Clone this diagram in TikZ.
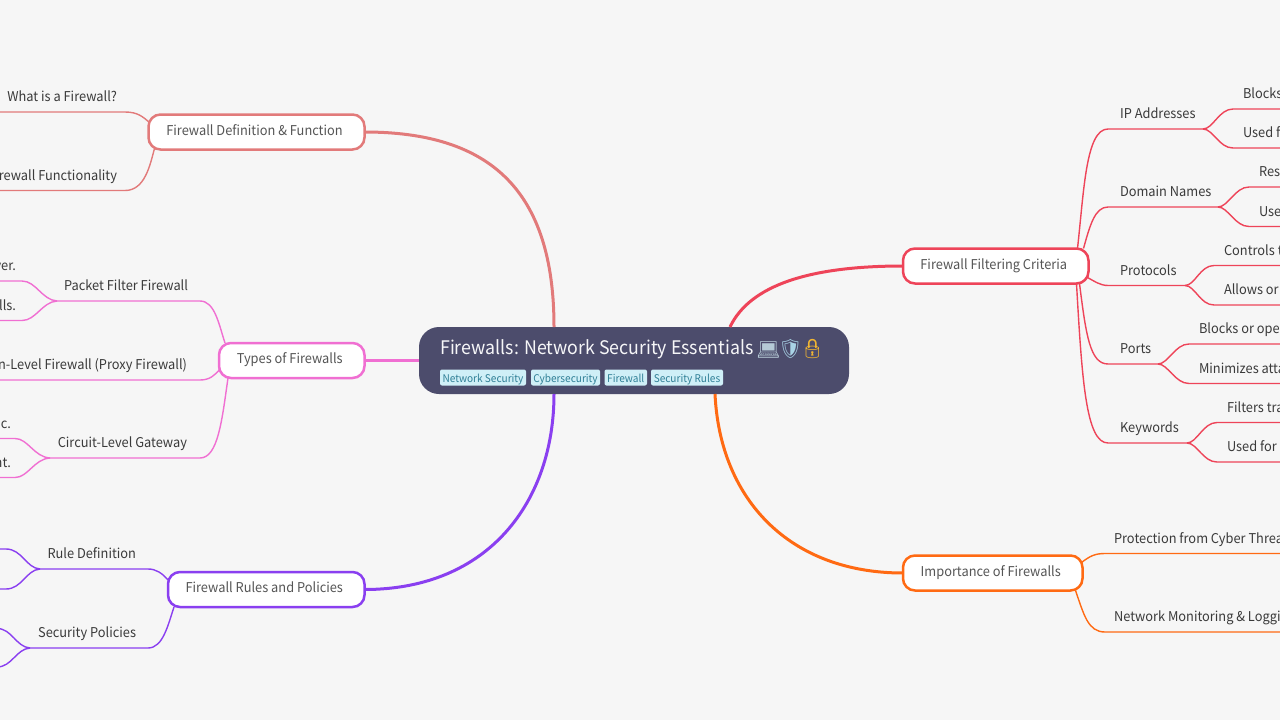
\documentclass[tikz,border=0pt]{standalone}
\usepackage{fontspec}
\setmainfont[FakeStretch=0.95]{Noto Sans CJK SC}
\newfontfamily\emo{Noto Emoji}
\usetikzlibrary{calc}
\definecolor{bgc}{HTML}{F6F6F6}
\definecolor{rootc}{HTML}{4C4C6C}
\definecolor{tagbg}{HTML}{CFEFF7}
\definecolor{tagfg}{HTML}{2F7F96}
\definecolor{cdef}{HTML}{E27A7A}
\definecolor{ctyp}{HTML}{F06FD2}
\definecolor{crul}{HTML}{8A3FF0}
\definecolor{cfil}{HTML}{EE4459}
\definecolor{cimp}{HTML}{FF6A13}
\definecolor{txtd}{HTML}{3A3A3A}
\definecolor{txtm}{HTML}{555555}
\definecolor{emlap}{HTML}{B5CAD6}
\definecolor{emshd}{HTML}{A9D3E6}
\definecolor{emlck}{HTML}{F2B632}
\tikzset{
  mainnode/.style={draw=#1,fill=white,line width=2.5,rounded corners=12,inner sep=0,outer sep=0,text=txtm,
    font=\fontsize{13.5}{16}\selectfont,anchor=north west,minimum height=35,text height=10,text depth=3.4},
  lab/.style={inner sep=0,outer sep=0,minimum height=29,text=txtd,font=\fontsize{13.5}{16}\selectfont,text height=11,text depth=3},
  labr/.style={lab,anchor=south west},
  labl/.style={lab,anchor=south east},
  tagnode/.style={fill=tagbg,text=tagfg,rounded corners=2,inner sep=0,outer sep=0,minimum height=16,anchor=west,
    font=\fontsize{10.6}{13}\selectfont,text height=10.5,text depth=1},
  emnode/.style={inner sep=0,anchor=center,font=\emo\fontsize{19}{22}\selectfont},
  thick1/.style={line width=3,draw=#1},
  thin1/.style={line width=1.4,draw=#1},
}
\newcommand{\lft}[1]{#1\hspace*{4pt}}
\begin{document}
\begin{tikzpicture}[x=1pt,y=-1pt]
\useasboundingbox (0,0) rectangle (1280,720);
\clip (0,0) rectangle (1280,720);
\fill[bgc] (0,0) rectangle (1280,720);
\coordinate (edgeL) at (-5,0);
\coordinate (edgeR) at (1285,0);

% root and main nodes
\node[fill=rootc,rounded corners=20,minimum width=430,minimum height=67,inner sep=0,outer sep=0,anchor=north west] (root) at (419,327) {};
\node[inner sep=0,anchor=base west,text=white!95!rootc,font=\fontsize{18.7}{22}\selectfont] (title) at (440,354.5) {Firewalls: Network Security Essentials};
\node[emnode,text=emlap] (em1) at (768.5,350) {💻};
\node[emnode,text=emshd] (em2) at (790.5,349.5) {🛡};
\node[emnode,text=emlck] (em3) at (812.5,349.5) {🔒};
\node[tagnode,minimum width=86] (t1) at (440,377.5) {Network Security};
\node[tagnode,minimum width=69] (t2) at (531,377.5) {Cybersecurity};
\node[tagnode,minimum width=42.5] (t3) at (604.5,377.5) {Firewall};
\node[tagnode,minimum width=72] (t4) at (651,377.5) {Security Rules};

\node[mainnode=cdef,minimum width=216] (def) at (148.5,114.5) {\lft{Firewall Definition \& Function}};
\node[mainnode=ctyp,minimum width=145.5] (typ) at (219,343) {\lft{Types of Firewalls}};
\node[mainnode=crul,minimum width=196.5] (rul) at (168,572) {\lft{Firewall Rules and Policies}};
\node[mainnode=cfil,minimum width=185.5] (fil) at (903,248.5) {\lft{Firewall Filtering Criteria}};
\node[mainnode=cimp,minimum width=179.5] (imp) at (903,555.5) {\lft{Importance of Firewalls}};

% main connectors
\draw[thick1=cdef] ($(root.north west)+(135,0)$) .. controls (554,190) and (490,132) .. (def.east);
\draw[thick1=ctyp] (root.west |- typ.east) -- (typ.east);
\draw[thick1=crul] ($(root.south west)+(135,0)$) .. controls (554,500) and (490,589.5) .. (rul.east);
\draw[thick1=cfil] ($(root.north west)+(311,0)$) .. controls (750,285) and (810,266) .. (fil.west);
\draw[thick1=cimp] ($(root.south west)+(296,0)$) .. controls (720,500) and (790,573) .. (imp.west);

% Definition branch
\node[labl] (d1) at (117,112) {What is a Firewall?};
\node[labl] (d2) at (117,190.5) {rewall Functionality};
\draw[thin1=cdef] (d1.south west -| edgeL) -- (d1.south east) -- ++(8,0) .. controls (138,112) and (143,117) .. ($(def.north west)+(1,8)$);
\draw[thin1=cdef] (d2.south west -| edgeL) -- (d2.south east) -- ++(8,0) .. controls (145,190.5) and (150,165) .. ($(def.south west)+(6,-1)$);

% Types branch
\coordinate (tj1) at (57,301);
\coordinate (tj3) at (50,458);
\node[labl] (p) at (188,301) {Packet Filter Firewall};
\node[labl] (a) at (187,380) {n-Level Firewall (Proxy Firewall)};
\node[labl] (c) at (187,458) {Circuit-Level Gateway};
\node[labl] (p1) at (16,281) {ver.};
\node[labl] (p2) at (16,320.5) {lls.};
\node[labl] (c1) at (11,438.5) {c.};
\node[labl] (c2) at (11,477.5) {nt.};
\draw[thin1=ctyp] (tj1) -- (p.south east) -- ++(12,0) .. controls (215,301) and (219,325) .. ($(typ.north west)+(6,0)$);
\draw[thin1=ctyp] (a.south west -| edgeL) -- (a.south east) -- ++(13,0) .. controls (210,380) and (215,375) .. ($(typ.south west)+(1,-9)$);
\draw[thin1=ctyp] (tj3) -- (c.south east) -- ++(13,0) .. controls (218,458) and (222,420) .. ($(typ.south west)+(9,0)$);
\draw[thin1=ctyp] (p1.south west -| edgeL) -- (p1.south east) -- ++(6,0) .. controls (36,281) and (42,300) .. (tj1);
\draw[thin1=ctyp] (p2.south west -| edgeL) -- (p2.south east) -- ++(6,0) .. controls (36,320.5) and (42,302) .. (tj1);
\draw[thin1=ctyp] (c1.south west -| edgeL) -- (c1.south east) -- ++(4,0) .. controls (28,438.5) and (34,457) .. (tj3);
\draw[thin1=ctyp] (c2.south west -| edgeL) -- (c2.south east) -- ++(4,0) .. controls (28,477.5) and (34,459) .. (tj3);

% Rules branch
\coordinate (rj1) at (40,569);
\coordinate (rj2) at (30,648);
\coordinate (r1a) at (6,549);
\coordinate (r1b) at (6,589);
\coordinate (r2a) at (-3,628.5);
\coordinate (r2b) at (-3,667);
\node[labl] (r1) at (136,569) {Rule Definition};
\node[labl] (r2) at (136,648) {Security Policies};
\draw[thin1=crul] (rj1) -- (r1.south east) -- ++(12,0) .. controls (156,569) and (162,573) .. ($(rul.north west)+(0,8)$);
\draw[thin1=crul] (rj2) -- (r2.south east) -- ++(12,0) .. controls (163,648) and (168,625) .. ($(rul.south west)+(6,0)$);
\draw[thin1=crul] (edgeL |- r1a) -- (r1a) .. controls (22,549) and (26,568) .. (rj1);
\draw[thin1=crul] (edgeL |- r1b) -- (r1b) .. controls (22,589) and (26,570) .. (rj1);
\draw[thin1=crul] (r2a) .. controls (12,628.5) and (16,647) .. (rj2);
\draw[thin1=crul] (r2b) .. controls (12,667) and (16,649) .. (rj2);

% Filtering branch
\coordinate (fj1) at (1203,129);
\coordinate (fj2) at (1218,207);
\coordinate (fj3) at (1185,285.5);
\coordinate (fj4) at (1158,364);
\coordinate (fj5) at (1187,443);
\node[labr] (f1) at (1120,129) {IP Addresses};
\node[labr] (f2) at (1120,207) {Domain Names};
\node[labr] (f3) at (1120,285.5) {Protocols};
\node[labr] (f4) at (1120,364) {Ports};
\node[labr] (f5) at (1120,443) {Keywords};
\draw[thin1=cfil] ($(fil.north east)+(-11,0)$) .. controls (1084,190) and (1086,129) .. (1108,129) -- (f1.south west) -- (fj1);
\draw[thin1=cfil] ($(fil.north east)+(-5,0)$) .. controls (1090,225) and (1095,207) .. (1108,207) -- (f2.south west) -- (fj2);
\draw[thin1=cfil] ($(fil.south east)+(-1,-6)$) .. controls (1094,281) and (1100,285.5) .. (1108,285.5) -- (f3.south west) -- (fj3);
\draw[thin1=cfil] ($(fil.south east)+(-9,0)$) .. controls (1086,335) and (1090,364) .. (1108,364) -- (f4.south west) -- (fj4);
\draw[thin1=cfil] ($(fil.south east)+(-12,0)$) .. controls (1082,380) and (1086,443) .. (1108,443) -- (f5.south west) -- (fj5);
\node[labr] (f1a) at (1243,109) {Blocks};
\node[labr] (f1b) at (1243,148) {Used f};
\node[labr] (f2a) at (1259,187) {Res};
\node[labr] (f2b) at (1259,226.5) {Use};
\node[labr] (f3a) at (1224,265.5) {Controls t};
\node[labr] (f3b) at (1224,305) {Allows or};
\node[labr] (f4a) at (1199,344) {Blocks or ope};
\node[labr] (f4b) at (1199,383.5) {Minimizes atta};
\node[labr] (f5a) at (1227,422.5) {Filters tra};
\node[labr] (f5b) at (1227,462) {Used for};
\foreach \j/\c in {fj1/f1a,fj1/f1b,fj2/f2a,fj2/f2b,fj3/f3a,fj3/f3b,fj4/f4a,fj4/f4b,fj5/f5a,fj5/f5b}{
  \draw[thin1=cfil] (\j) .. controls ($(\j)+(10,0)$) and ($(\c.south west)+(-24,0)$) .. ($(\c.south west)+(-10,0)$) -- (\c.south west) -- (\c.south west -| edgeR);
}

% Importance branch
\node[labr] (i1) at (1114,553.5) {Protection from Cyber Threa};
\node[labr] (i2) at (1114,632) {Network Monitoring \& Loggi};
\draw[thin1=cimp] ($(imp.north east)+(-1,7)$) .. controls (1090,556) and (1095,553.5) .. (1105,553.5) -- (i1.south west) -- (i1.south west -| edgeR);
\draw[thin1=cimp] ($(imp.south east)+(-7,0)$) .. controls (1084,615) and (1088,632) .. (1105,632) -- (i2.south west) -- (i2.south west -| edgeR);
\end{tikzpicture}
\end{document}
